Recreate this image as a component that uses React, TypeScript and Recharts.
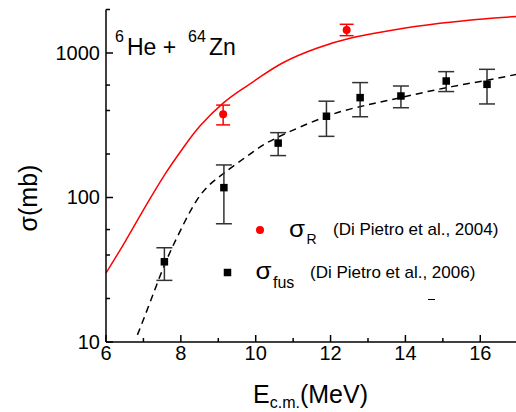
import React from 'react';
import { ComposedChart, Line, Scatter, XAxis, YAxis, ErrorBar } from 'recharts';

// optical model reaction cross section (red curve)
const rCurveE = [6, 6.5, 7, 7.6, 8.07, 8.51, 9.13, 9.67, 10.11, 10.74, 11.63, 12.52, 13.41, 14.3, 15.19, 16.08, 17];
const rCurveSigma = [30, 49, 82, 148, 222, 312, 450, 570, 680, 860, 1080, 1264, 1403, 1530, 1631, 1720, 1790];

// fusion calculation (dashed curve)
const fusCurveE = [6.84, 7.2, 7.58, 8.0, 8.51, 9.13, 9.94, 10.6, 11.9, 13.0, 14.0, 15.09, 16.18, 17];
const fusCurveSigma = [11.2, 19.5, 35, 60, 103, 146, 208, 262, 365, 438, 500, 575, 648, 715];

// sigma_R data (Di Pietro 2004)
const rPointE = [9.13, 12.43];
const rPointSigma = [377, 1443];
const rPointHi = [436, 1580];
const rPointLo = [318, 1318];

// sigma_fus data (Di Pietro 2006)
const fusPointE = [7.56, 9.15, 10.6, 11.89, 12.79, 13.88, 15.09, 16.18];
const fusPointSigma = [35.9, 117, 238, 365, 491, 504, 640, 607];
const fusPointHi = [44.9, 168, 281, 464, 624, 591, 743, 771];
const fusPointLo = [26.7, 65.8, 195, 265, 362, 418, 541, 444];

const xTicks = [6, 7, 8, 9, 10, 11, 12, 13, 14, 15, 16, 17];
const yTicks = [10, 20, 30, 40, 50, 60, 70, 80, 90, 100, 200, 300, 400, 500, 600, 700, 800, 900, 1000, 2000];
const yMajor = [10, 100, 1000];

const FONT = '"Liberation Sans", Arial, sans-serif';

const rCurve = rCurveE.map((e, i) => ({ e, s: rCurveSigma[i] }));
const fusCurve = fusCurveE.map((e, i) => ({ e, s: fusCurveSigma[i] }));
const rPoints = rPointE.map((e, i) => ({
  e, s: rPointSigma[i], err: [rPointSigma[i] - rPointLo[i], rPointHi[i] - rPointSigma[i]],
}));
const fusPoints = fusPointE.map((e, i) => ({
  e, s: fusPointSigma[i], err: [fusPointSigma[i] - fusPointLo[i], fusPointHi[i] - fusPointSigma[i]],
}));

function BottomTick({ x, y, payload }: any) {
  const major = payload.value % 2 === 0;
  return (
    <g>
      <line x1={x} x2={x} y1={y} y2={y - (major ? 7 : 4)} stroke="#000" strokeWidth={1.5} />
      {major && (
        <text x={x} y={y + 18} textAnchor="middle" fontSize={20} fontFamily={FONT} fill="#000">{payload.value}</text>
      )}
    </g>
  );
}

function TopTick({ x, y, payload }: any) {
  const major = payload.value % 2 === 0;
  return <line x1={x} x2={x} y1={y} y2={y + (major ? 7 : 4)} stroke="#000" strokeWidth={1.5} />;
}

function LeftTick({ x, y, payload }: any) {
  const major = yMajor.includes(payload.value);
  return (
    <g>
      <line x1={x} x2={x + (major ? 7 : 4)} y1={y} y2={y} stroke="#000" strokeWidth={1.5} />
      {major && (
        <text x={x - 6} y={y + 7} textAnchor="end" fontSize={20} fontFamily={FONT} fill="#000">{payload.value}</text>
      )}
    </g>
  );
}

function RightTick({ x, y, payload }: any) {
  const major = yMajor.includes(payload.value);
  return <line x1={x} x2={x - (major ? 7 : 4)} y1={y} y2={y} stroke="#000" strokeWidth={1.5} />;
}

const SquareDot = (p: any) => (
  <rect x={p.cx - 3.75} y={p.cy - 3.75} width={7.5} height={7.5} fill="#000" />
);
const RoundDot = (p: any) => <circle cx={p.cx} cy={p.cy} r={4} fill="#ff0000" />;

export default function App() {
  return (
    <div style={{ position: 'absolute', left: 0, top: 0, width: 516, height: 412, overflow: 'hidden', background: '#fff' }}>
      <ComposedChart width={530} height={412} margin={{ top: 9.5, right: 12.3, left: 46, bottom: 0 }}>
        <XAxis dataKey="e" type="number" domain={[6, 17]} ticks={xTicks} allowDataOverflow
          height={70} tickSize={0} tickMargin={0} tick={<BottomTick />}
          axisLine={{ stroke: '#000', strokeWidth: 1.5 }} tickLine={false} />
        <XAxis xAxisId="top" orientation="top" type="number" domain={[6, 17]} ticks={xTicks} allowDataOverflow
          height={0} tickSize={0} tickMargin={0} tick={<TopTick />}
          axisLine={{ stroke: '#000', strokeWidth: 1.5 }} tickLine={false} />
        <YAxis dataKey="s" type="number" scale="log" domain={[10, 2000]} ticks={yTicks} allowDataOverflow
          width={60} tickSize={0} tickMargin={0} tick={<LeftTick />}
          axisLine={{ stroke: '#000', strokeWidth: 1.5 }} tickLine={false} />
        <YAxis yAxisId="right" orientation="right" type="number" scale="log" domain={[10, 2000]} ticks={yTicks}
          allowDataOverflow width={0} tickSize={0} tickMargin={0} tick={<RightTick />}
          axisLine={{ stroke: '#000', strokeWidth: 1.5 }} tickLine={false} />
        <Line data={rCurve} dataKey="s" type="natural" stroke="#ff0000" strokeWidth={1.5}
          dot={false} isAnimationActive={false} />
        <Line data={fusCurve} dataKey="s" type="natural" stroke="#000" strokeWidth={1.5}
          strokeDasharray="7 5" dot={false} isAnimationActive={false} />
        <Scatter data={rPoints} dataKey="s" shape={RoundDot} isAnimationActive={false}>
          <ErrorBar dataKey="err" direction="y" width={7} stroke="#ff0000" strokeWidth={1.5} isAnimationActive={false} />
        </Scatter>
        <Scatter data={fusPoints} dataKey="s" shape={SquareDot} isAnimationActive={false}>
          <ErrorBar dataKey="err" direction="y" width={8} stroke="#333" strokeWidth={1.5} isAnimationActive={false} />
        </Scatter>
      </ComposedChart>

      <svg width={516} height={412} style={{ position: 'absolute', left: 0, top: 0, pointerEvents: 'none' }}
        fontFamily={FONT} fill="#000">
        {/* reaction label */}
        <text x={115} y={41.5} fontSize={16}>6</text>
        <text x={127} y={55} fontSize={23}>He +</text>
        <text x={188} y={41.5} fontSize={16}>64</text>
        <text x={209} y={55} fontSize={23}>Zn</text>

        {/* axis titles */}
        <text transform="translate(37,198) rotate(-90)" textAnchor="middle" fontSize={25}>σ(mb)</text>
        <text x={253} y={403} fontSize={25}>
          E<tspan fontSize={16} dy={5}>c.m.</tspan><tspan fontSize={25} dy={-5}>(MeV)</tspan>
        </text>

        {/* legend */}
        <circle cx={260} cy={230} r={4} fill="#ff0000" />
        <text x={289} y={236.5} fontSize={23} textLength={16} lengthAdjust="spacingAndGlyphs">σ</text>
        <text x={306.5} y={244} fontSize={14}>R</text>
        <text x={333} y={235} fontSize={17}>(Di Pietro et al., 2004)</text>

        <rect x={223.75} y={268.75} width={7.5} height={7.5} fill="#000" />
        <text x={255.5} y={278.5} fontSize={23} textLength={16} lengthAdjust="spacingAndGlyphs">σ</text>
        <text x={273} y={288} fontSize={16}>fus</text>
        <text x={310} y={278} fontSize={17}>(Di Pietro et al., 2006)</text>

        <line x1={428} x2={435} y1={299.5} y2={299.5} stroke="#000" strokeWidth={1} />
      </svg>
    </div>
  );
}
